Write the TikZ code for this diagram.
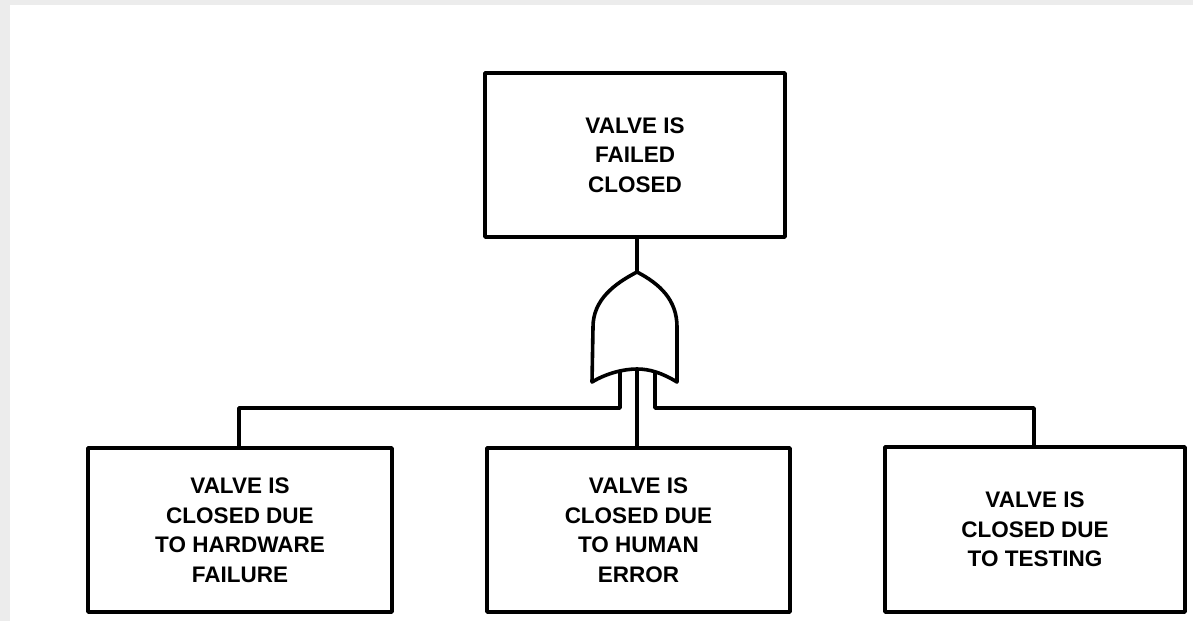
\documentclass[tikz,border=0pt]{standalone}
\usepackage{fontspec}
\setmainfont{Liberation Sans}
\begin{document}
\begin{tikzpicture}[x=1pt,y=-1pt,
  line join=round,
  event/.style={draw, line width=3.6pt, inner sep=0pt, align=center,
    font=\fontsize{22.5}{29.5}\selectfont\bfseries},
  wire/.style={line width=3.6pt}]
\useasboundingbox (0,0) rectangle (1193,621);
% paper edge
\fill[gray!15] (0,0) rectangle (1193,5);
\fill[gray!15] (0,0) rectangle (10,621);

% top event
\node[event, minimum width=300pt, minimum height=164pt] (top) at (635,155)
  {VALVE IS\\FAILED\\CLOSED};

% basic events
\node[event, minimum width=304pt, minimum height=164pt] (hw) at (240,530)
  {VALVE IS\\CLOSED DUE\\TO HARDWARE\\FAILURE};
\node[event, minimum width=303pt, minimum height=164pt] (he) at (638.5,530)
  {VALVE IS\\CLOSED DUE\\TO HUMAN\\ERROR};
\node[event, minimum width=300pt, minimum height=165pt] (ts) at (1035,529.5)
  {VALVE IS\\CLOSED DUE\\TO TESTING};

% OR gate
\coordinate (gout) at (637,272);
\coordinate (gin1) at (620,372);
\coordinate (gin2) at (637,369);
\coordinate (gin3) at (655,372);
\draw[wire] (592,382) -- (593,327)
  .. controls (593,300) and (614,284) .. (gout)
  .. controls (660,284) and (677,300) .. (677,327)
  -- (677,382)
  .. controls (662,373) and (650,369) .. (gin2)
  .. controls (624,369) and (607,373) .. (592,382) -- cycle;

% connectors
\draw[wire] (top.south -| gout) -- (gout);
\draw[wire] (gin1) |- (239,408) -- (hw.north -| 239,0);
\draw[wire] (gin2) -- (he.north -| gin2);
\draw[wire] (gin3) |- (1034,408) -- (ts.north -| 1034,0);
\end{tikzpicture}
\end{document}
